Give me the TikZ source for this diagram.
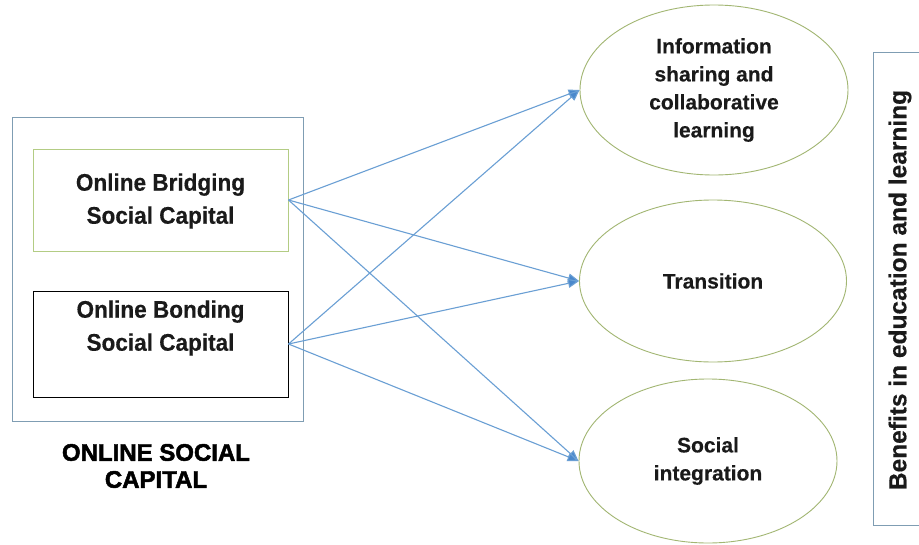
\documentclass[tikz,border=0pt]{standalone}
\usepackage{fontspec}
\setmainfont[BoldFeatures={FakeBold=0.4}]{Liberation Sans}
\newfontfamily\narrowsans[FakeStretch=0.94,BoldFeatures={FakeBold=0.4}]{Liberation Sans}
\newfontfamily\heavysans[BoldFeatures={FakeBold=2}]{Liberation Sans}
\usetikzlibrary{shapes.geometric,arrows.meta}
\definecolor{framegray}{HTML}{7F9DB3}
\definecolor{bridgegreen}{HTML}{B3CC84}
\definecolor{ovalgreen}{HTML}{A2B672}
\definecolor{linkblue}{HTML}{6A9FD4}
\definecolor{tipblue}{HTML}{4A88CC}
\definecolor{inkblack}{HTML}{1A1A1A}
\begin{document}
\begin{tikzpicture}[x=1pt,y=-1pt,
  capbox/.style={rectangle, line width=1pt, minimum width=255pt, inner sep=0pt},
  captext/.style={align=center, font=\narrowsans\bfseries\fontsize{24}{33}\selectfont, text=inkblack},
  oval/.style={ellipse, draw=ovalgreen, line width=0.9pt, inner sep=0pt, align=center,
    font=\bfseries\fontsize{21}{28}\selectfont, text=inkblack},
  link/.style={draw=linkblue, line width=1.1pt, -{Triangle[length=11pt,width=9pt,fill=tipblue]}}
]
\clip (0,0) rectangle (919,544);
\fill[white] (0,0) rectangle (919,544);

% left group: online social capital
\node[rectangle, draw=framegray, line width=1pt, minimum width=291pt, minimum height=304pt, inner sep=0pt]
  (frame) at (157.5,269) {};
\node[capbox, draw=bridgegreen, minimum height=102pt] (bridge) at (160.5,200) {};
\node[captext] (bridgetxt) at (160.5,201) {Online Bridging\\Social Capital};
\node[capbox, draw=black, minimum height=106pt] (bond) at (160.5,344) {};
\node[captext] (bondtxt) at (160.5,328) {Online Bonding\\Social Capital};
\node[align=center, font=\heavysans\bfseries\fontsize{24}{27}\selectfont, text=black]
  (groupname) at (156,466) {ONLINE SOCIAL\\CAPITAL};

% outcomes
\node[oval, minimum width=268pt, minimum height=170pt] (info) at (714,90)
  {Information\\sharing and\\collaborative\\learning};
\node[oval, minimum width=267pt, minimum height=162pt] (trans) at (713,281) {Transition};
\node[oval, minimum width=258pt, minimum height=164pt] (integ) at (708,461) {Social\\integration};

% right-hand benefits panel
\node[rectangle, draw=framegray, line width=1pt, minimum width=60pt, minimum height=473pt, inner sep=0pt]
  (benefits) at (903,288.5) {};
\node[rotate=90, font=\bfseries\fontsize{24.5}{28}\selectfont, text=inkblack]
  (benefitstxt) at (900,290) {Benefits in education and learning};

% links
\draw[link] (bridge.east) -- (info.west);
\draw[link] (bridge.east) -- (trans.west);
\draw[link] (bridge.east) -- (integ.west);
\draw[link] (bond.east) -- (info.west);
\draw[link] (bond.east) -- (trans.west);
\draw[link] (bond.east) -- (integ.west);
\end{tikzpicture}
\end{document}
